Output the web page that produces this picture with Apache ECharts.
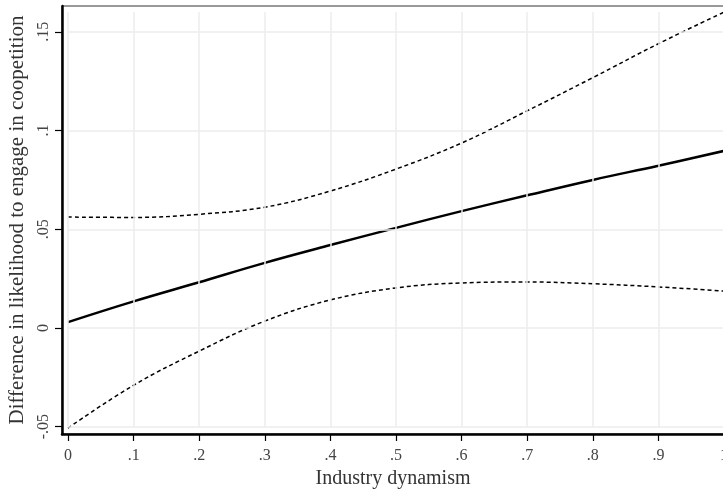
<!DOCTYPE html>
<html>
<head>
<meta charset="utf-8">
<script src="https://cdn.jsdelivr.net/npm/echarts@6/dist/echarts.min.js"></script>
<style>
  html, body { margin: 0; padding: 0; background: #fff; }
  #chart { width: 723px; height: 491px; }
</style>
</head>
<body>
<div id="chart"></div>
<script>
// Industry dynamism values at which the effect is evaluated
const dynamism = [0, 0.1, 0.2, 0.3, 0.4, 0.5, 0.6, 0.7, 0.8, 0.9, 1.0];
// Estimated difference and its confidence bounds
const estimate = [0.003, 0.0135, 0.0232, 0.0330, 0.0420, 0.0507, 0.0592, 0.0672, 0.0750, 0.0822, 0.0897];
const upperCI  = [0.0562, 0.0560, 0.0576, 0.0612, 0.0694, 0.0805, 0.0937, 0.1100, 0.1268, 0.1440, 0.1600];
const lowerCI  = [-0.0507, -0.0290, -0.0117, 0.0035, 0.0142, 0.0203, 0.0228, 0.0233, 0.0224, 0.0208, 0.0187];

const xTicks = [0, 0.1, 0.2, 0.3, 0.4, 0.5, 0.6, 0.7, 0.8, 0.9, 1];
const yTicks = [-0.05, 0, 0.05, 0.1, 0.15];
const gridTop = 0.16;

function stataLabel(v) {
  if (v === 0) return '0';
  let s = String(Math.round(v * 1000) / 1000);
  return s.replace(/^(-?)0\./, '$1.');
}

const pairs = (xs, ys) => xs.map((x, i) => [x, ys[i]]);

const gridLines = [];
xTicks.forEach(x => gridLines.push([{ coord: [x, yTicks[0]] }, { coord: [x, gridTop] }]));
yTicks.forEach(y => gridLines.push([{ coord: [xTicks[0], y] }, { coord: [xTicks[xTicks.length - 1], y] }]));

const font = '"Liberation Serif", "DejaVu Serif", serif';
const chart = echarts.init(document.getElementById('chart'));
chart.setOption({
  animation: false,
  backgroundColor: '#ffffff',
  grid: {
    left: 62, right: -1, top: 6, bottom: 57,
    outerBoundsMode: 'none', containLabel: false,
    show: true, borderColor: '#333', borderWidth: 1
  },
  xAxis: {
    type: 'value', min: -0.0092, max: 1.0,
    name: 'Industry dynamism', nameLocation: 'middle', nameGap: 35,
    nameTextStyle: { fontFamily: font, fontSize: 20, color: '#333' },
    axisLine: { show: true, onZero: false, lineStyle: { color: '#000', width: 2.5 } },
    axisTick: { show: true, customValues: xTicks, length: 7, lineStyle: { color: '#000', width: 1.2 } },
    axisLabel: { customValues: xTicks, formatter: stataLabel, fontFamily: font, fontSize: 16, color: '#444', margin: 14 },
    splitLine: { show: false }
  },
  yAxis: {
    type: 'value', min: -0.0537, max: 0.1631,
    name: 'Difference in likelihood to engage in coopetition', nameLocation: 'middle', nameGap: 33, nameRotate: 90,
    nameTextStyle: { fontFamily: font, fontSize: 21, color: '#333' },
    axisLine: { show: true, onZero: false, lineStyle: { color: '#000', width: 2.5 } },
    axisTick: { show: true, customValues: yTicks, length: 7, lineStyle: { color: '#000', width: 1.2 } },
    axisLabel: { customValues: yTicks, formatter: stataLabel, rotate: 90, fontFamily: font, fontSize: 16, color: '#444', margin: 10 },
    splitLine: { show: false }
  },
  series: [
    {
      type: 'line', data: [], z: 1, silent: true,
      markLine: {
        silent: true, symbol: 'none', label: { show: false },
        lineStyle: { color: '#ececec', width: 1.5, type: 'solid' },
        emphasis: { disabled: true },
        data: gridLines
      }
    },
    {
      type: 'line', data: pairs(dynamism, upperCI), smooth: 0.4, showSymbol: false, z: 3,
      lineStyle: { color: '#000', width: 1.5, type: [4, 3] }
    },
    {
      type: 'line', data: pairs(dynamism, lowerCI), smooth: 0.4, showSymbol: false, z: 3,
      lineStyle: { color: '#000', width: 1.5, type: [4, 3] }
    },
    {
      type: 'line', data: pairs(dynamism, estimate), smooth: 0.4, showSymbol: false, z: 4,
      lineStyle: { color: '#000', width: 2.5 }
    }
  ]
});
</script>
</body>
</html>
